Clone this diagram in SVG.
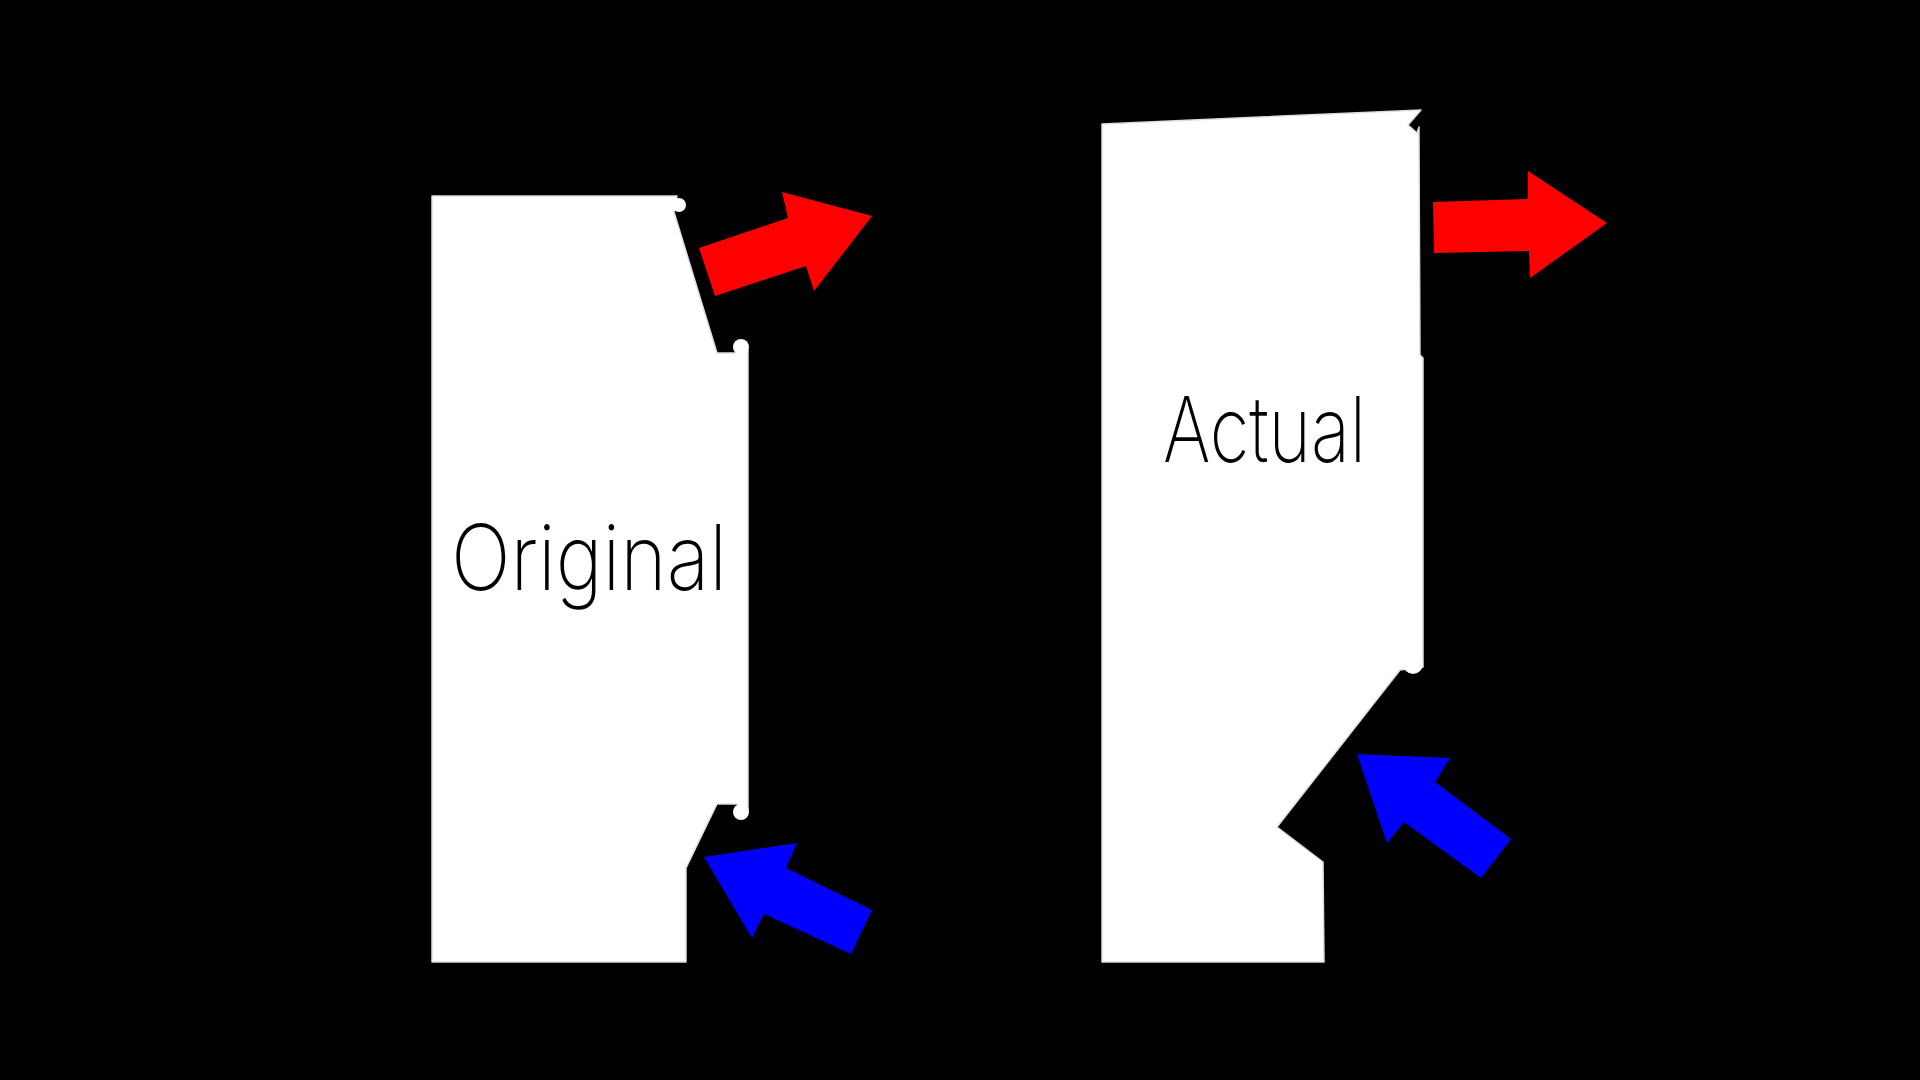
<svg xmlns="http://www.w3.org/2000/svg" width="1920" height="1080" viewBox="0 0 1920 1080">
<style>
.panel{fill:#fff;stroke:#ddd;stroke-width:1.5;stroke-linejoin:round}
.knob{fill:#fff}
.lbl{font-family:"Inter","Noto Sans","DejaVu Sans",sans-serif;font-weight:200;font-size:91px;fill:#000}
.red{fill:#ff0000}
.blue{fill:#0000ff}
</style>
<rect width="1920" height="1080" fill="#000"/>
<g id="original">
<polygon class="panel" points="432,196 677,196 674,212 717,353 738,353 748,350 748,810 737,804 717,804 686,868 686,962 432,962"/>
<circle class="knob" cx="679" cy="205" r="7"/>
<circle class="knob" cx="741" cy="347" r="8"/>
<circle class="knob" cx="741" cy="812" r="8"/>
<text class="lbl" x="451" y="590" textLength="276" lengthAdjust="spacingAndGlyphs">Original</text>
</g>
<g id="actual">
<polygon class="panel" points="1102,124 1260,117 1421,110 1408,125 1417,133 1419,127 1419,137 1420,355 1423,358 1423,667 1400,670 1277,827 1323,862 1324,962 1102,962"/>
<circle class="knob" cx="1413" cy="664" r="10"/>
<text class="lbl" x="1163" y="462" textLength="203" lengthAdjust="spacingAndGlyphs">Actual</text>
</g>
<g id="connectors">
<polygon class="red" points="699,248 788,218 782,192 872,216 814,291 806,266 715,296"/>
<polygon class="blue" points="704,857 797,843 786,868 872,910 851,954 764,914 752,938"/>
<polygon class="red" points="1433,202 1528,199 1528,171 1607,223 1530,278 1529,251 1434,253"/>
<polygon class="blue" points="1357,754 1450,758 1435,782 1511,839 1481,878 1404,822 1387,843"/>
</g>
</svg>
